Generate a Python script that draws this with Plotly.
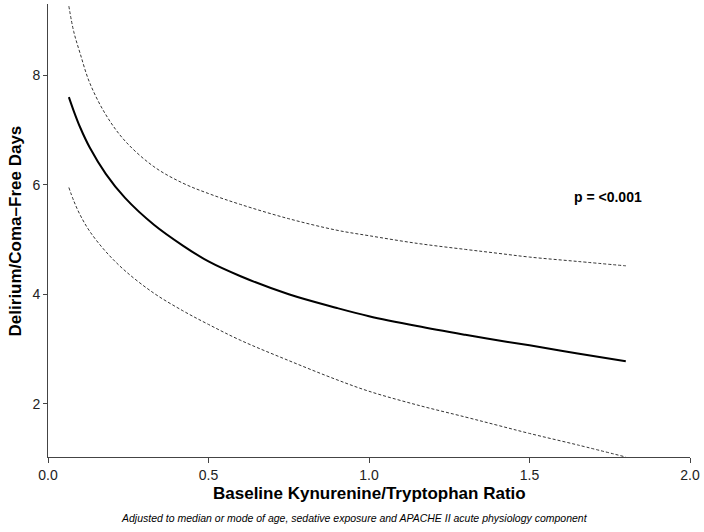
"""Adjusted delirium/coma-free days vs baseline K/T ratio."""

import plotly.graph_objects as go

# values
ratio = [0.065, 0.08, 0.1, 0.13, 0.18, 0.24, 0.33, 0.42, 0.5, 0.6,
         0.75, 0.9, 1.0, 1.15, 1.3, 1.4, 1.5, 1.65, 1.8]
fit = [7.6, 7.35, 7.05, 6.68, 6.2, 5.76, 5.27, 4.89, 4.6, 4.33,
       4.0, 3.75, 3.6, 3.42, 3.26, 3.16, 3.07, 2.92, 2.78]
upper = [9.26, 8.8, 8.4, 7.86, 7.28, 6.8, 6.33, 6.03, 5.84, 5.64,
         5.38, 5.17, 5.07, 4.93, 4.82, 4.75, 4.68, 4.6, 4.52]
lower = [5.95, 5.71, 5.45, 5.15, 4.78, 4.43, 4.02, 3.7, 3.45, 3.16,
         2.79, 2.44, 2.23, 1.98, 1.76, 1.61, 1.46, 1.25, 1.03]

x_ticks = [0.0, 0.5, 1.0, 1.5, 2.0]
x_labels = ["0.0", "0.5", "1.0", "1.5", "2.0"]
y_ticks = [2, 4, 6, 8]

p_label = "p = <0.001"
p_pos = (1.745, 5.77)

FONT = "Liberation Sans, Arial, Helvetica, sans-serif"
AXIS = "#444444"

fig = go.Figure()

for band in (upper, lower):
    fig.add_trace(go.Scatter(
        x=ratio, y=band, mode="lines",
        line=dict(color="#333333", width=1, dash="3px,2px", shape="spline"),
        showlegend=False, hoverinfo="skip",
    ))

fig.add_trace(go.Scatter(
    x=ratio, y=fit, mode="lines",
    line=dict(color="black", width=2, shape="spline"),
    showlegend=False,
))

fig.add_annotation(
    x=p_pos[0], y=p_pos[1], text=f"<b>{p_label}</b>", showarrow=False,
    font=dict(size=14, color="black", family=FONT),
)

# axis titles placed by hand to sit where the reference has them
fig.add_annotation(
    x=0.5, y=0, xref="paper", yref="paper", yshift=-36,
    xanchor="center", yanchor="middle",
    text="<b>Baseline Kynurenine/Tryptophan Ratio</b>", showarrow=False,
    font=dict(size=17, color="black", family=FONT),
)
fig.add_annotation(
    x=0.477, y=0, xref="paper", yref="paper", yshift=-61,
    xanchor="center", yanchor="middle",
    text="<i>Adjusted to median or mode of age, sedative exposure and "
         "APACHE II acute physiology component</i>",
    showarrow=False, font=dict(size=10.5, color="black", family=FONT),
)
fig.add_annotation(
    x=0, y=0.498, xref="paper", yref="paper", xshift=-33, textangle=-90,
    xanchor="center", yanchor="middle",
    text="<b>Delirium/Coma\u2013Free Days</b>", showarrow=False,
    font=dict(size=17, color="black", family=FONT),
)

fig.update_xaxes(
    range=[0, 2.0], tickvals=x_ticks, ticktext=x_labels,
    showline=True, linecolor=AXIS, linewidth=1,
    ticks="outside", ticklen=5, tickcolor=AXIS,
    showgrid=False, zeroline=False,
    tickfont=dict(size=14, color="#222222", family=FONT),
)
fig.update_yaxes(
    range=[1.03, 9.3], tickvals=y_ticks,
    showline=True, linecolor=AXIS, linewidth=1,
    ticks="outside", ticklen=4, tickcolor=AXIS,
    showgrid=False, zeroline=False,
    tickfont=dict(size=14, color="#222222", family=FONT),
)

fig.update_layout(
    width=704, height=532,
    plot_bgcolor="white", paper_bgcolor="white",
    margin=dict(l=48, r=12, t=4, b=75),
    font=dict(family=FONT),
)

fig.write_html(
    "out.html",
    config={"displayModeBar": False},
    post_script="document.body.style.margin='0';",
)
